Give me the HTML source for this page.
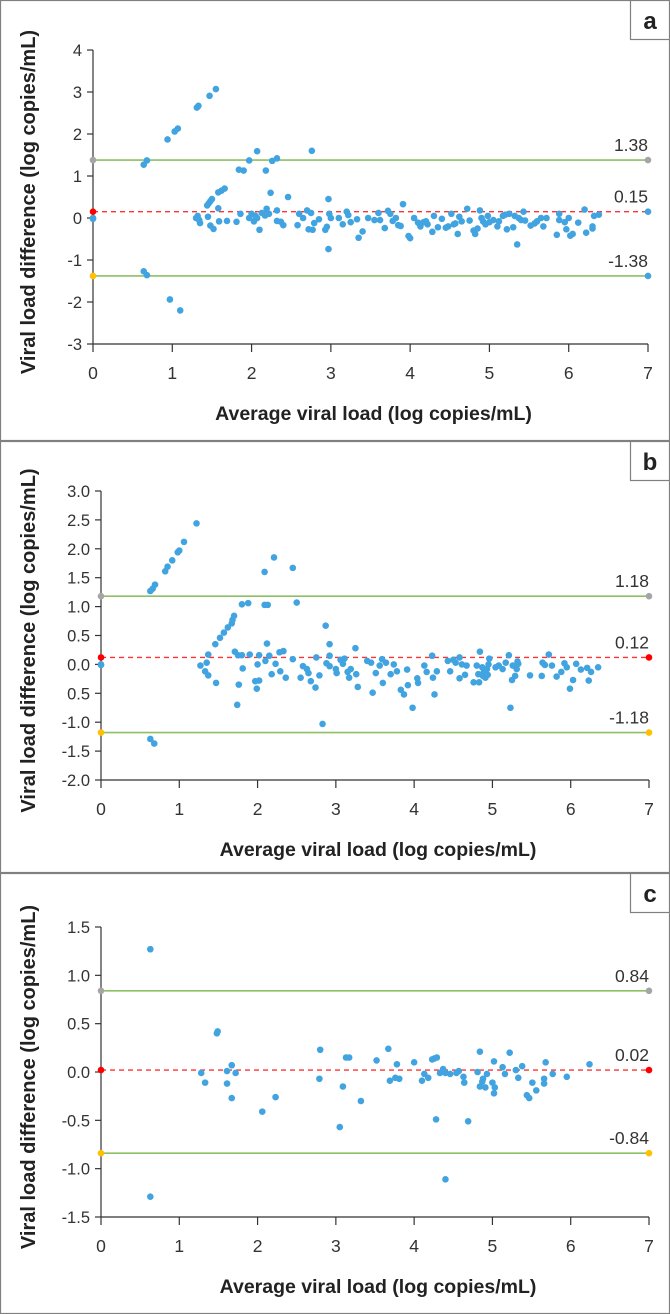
<!DOCTYPE html>
<html><head><meta charset="utf-8"><style>
body{margin:0;background:#fff}
svg{display:block;font-family:"Liberation Sans",sans-serif}
</style></head><body>
<svg id="chart" width="670" height="1314" viewBox="0 0 670 1314"></svg>
<script>
// ---------- DATA ----------
const aX = [0,0.64,0.68,0.94,1.03,1.07,1.31,1.33,1.47,1.55,0.64,0.68,0.97,1.10,1.44,1.46,1.48,1.50,1.58,1.62,1.66,1.84,1.90,1.97,2.07,2.18,2.26,2.32,2.76,2.24,2.46,2.97,3.91,
1.30,1.32,1.34,1.35,1.45,1.48,1.52,1.58,1.59,1.69,1.81,1.86,1.97,2.0,2.03,2.05,2.07,2.10,2.13,2.17,2.19,2.22,2.32,2.32,2.37,2.40,2.58,2.60,2.65,2.70,2.72,2.75,2.77,2.79,2.85,2.93,2.95,2.97,2.98,3.0,3.10,3.15,3.20,3.22,3.25,3.33,3.35,3.40,3.47,3.55,3.60,3.62,3.68,3.72,3.75,3.78,3.82,3.85,3.88,3.98,4.00,4.05,4.10,4.12,4.13,4.17,4.20,4.22,4.28,4.30,4.35,4.40,4.45,4.48,4.52,4.55,4.57,4.60,4.62,4.65,4.72,4.75,4.80,4.82,4.85,4.88,4.90,4.92,4.95,4.98,5.0,5.05,5.10,5.12,5.17,5.20,5.22,5.25,5.30,5.32,5.35,5.37,5.40,5.43,5.45,5.52,5.57,5.60,5.65,5.68,5.72,5.85,5.88,5.88,5.95,5.97,6.00,6.02,6.05,6.12,6.20,6.22,6.30,6.30,6.32,6.38];
const aY = [-0.02,1.27,1.37,1.87,2.06,2.13,2.63,2.67,2.91,3.07,-1.27,-1.36,-1.94,-2.2,0.30,0.35,0.40,0.45,0.61,0.65,0.70,1.15,1.13,1.37,1.59,1.13,1.36,1.42,1.60,0.6,0.5,0.45,0.33,
0.00,0.05,-0.05,-0.12,0.03,-0.18,-0.26,0.23,-0.08,-0.07,-0.09,0.10,0.0,0.1,-0.08,0.05,0.0,-0.28,0.12,0.06,0.22,0.1,0.18,-0.07,-0.09,-0.17,-0.17,0.10,0.0,0.18,-0.27,0.12,-0.28,-0.12,-0.03,-0.28,-0.21,-0.74,0.1,0.0,0.0,-0.15,0.15,0.07,-0.1,-0.03,-0.47,-0.32,0.0,-0.05,0.12,-0.05,-0.24,0.17,0.1,-0.07,0.0,-0.17,-0.19,-0.43,-0.48,0.0,-0.11,-0.14,-0.2,-0.1,-0.08,-0.15,-0.33,0.05,-0.22,-0.02,-0.23,-0.2,0.1,-0.15,-0.13,-0.38,0.03,-0.08,0.22,-0.06,-0.3,-0.38,-0.25,0.18,0.0,-0.08,-0.15,0.05,-0.1,-0.05,-0.2,-0.08,0.05,0.08,-0.27,0.1,-0.22,0.05,-0.63,0.0,-0.05,0.15,-0.06,-0.18,-0.13,-0.08,0.0,-0.2,0.0,-0.4,0.1,-0.05,-0.1,-0.27,0.0,-0.42,-0.38,-0.11,0.2,-0.35,-0.20,-0.25,0.05,0.08];
const aLimits = [1.38, 0.15, -1.38];
const aTicks = ["-3","-2","-1","0","1","2","3","4"];

const bX = [0,0.63,0.66,0.69,0.82,0.85,0.91,0.98,1.0,1.06,1.22,0.63,0.68,2.09,2.21,2.45,2.50,2.09,2.13,1.80,1.88,1.37,1.46,1.52,1.57,1.62,1.67,1.68,1.70,1.27,1.33,1.37,1.47,1.35,2.87,2.92,3.25,1.74,2.83,3.98,5.23,
1.71,1.75,1.80,1.90,2.02,2.12,2.15,2.28,2.33,2.45,1.81,1.76,1.97,1.99,2.00,2.02,2.10,2.18,2.23,2.29,2.36,2.55,2.58,2.63,2.65,2.68,2.74,2.75,2.79,2.88,2.92,2.92,3.00,3.01,3.06,3.09,3.11,3.15,3.17,3.19,3.26,3.28,3.40,3.45,3.47,3.51,3.56,3.59,3.60,3.64,3.70,3.74,3.78,3.83,3.87,3.91,3.92,4.04,4.05,4.13,4.16,4.23,4.24,4.26,4.29,4.43,4.46,4.50,4.53,4.58,4.58,4.61,4.65,4.67,4.76,4.80,4.82,4.83,4.84,4.87,4.88,4.89,4.91,4.93,4.94,4.95,4.96,5.04,5.08,5.13,5.17,5.21,5.25,5.26,5.29,5.31,5.32,5.33,5.48,5.63,5.64,5.67,5.72,5.76,5.82,5.88,5.92,5.95,5.99,6.03,6.07,6.13,6.21,6.23,6.26,6.35];
const bY = [-0.01,1.27,1.31,1.38,1.61,1.69,1.80,1.94,1.97,2.12,2.44,-1.29,-1.37,1.60,1.85,1.67,1.07,1.03,1.03,1.04,1.06,0.17,0.35,0.46,0.55,0.64,0.71,0.77,0.84,-0.02,-0.12,-0.19,-0.32,0.03,0.67,0.35,0.28,-0.70,-1.03,-0.75,-0.75,
0.22,0.16,0.16,0.17,0.16,0.36,0.15,0.21,0.23,0.09,-0.07,-0.35,-0.29,-0.42,0.0,-0.28,0.06,-0.17,0.01,-0.12,-0.23,-0.23,-0.03,-0.08,-0.15,-0.29,-0.40,0.12,-0.19,0.02,-0.03,0.15,-0.08,-0.15,0.08,0.01,0.10,-0.13,-0.23,-0.08,-0.17,-0.39,0.06,0.03,-0.49,-0.15,-0.02,0.09,-0.32,0.03,-0.17,0.0,-0.12,-0.44,-0.52,-0.09,-0.36,-0.24,-0.32,-0.02,-0.13,0.15,-0.23,-0.52,-0.12,0.06,-0.12,0.08,0.03,-0.24,0.12,0.0,-0.18,-0.02,-0.31,-0.02,-0.17,-0.31,0.22,-0.05,-0.20,-0.13,-0.23,-0.08,-0.18,0.0,0.10,-0.05,-0.02,-0.08,0.03,0.16,-0.27,-0.02,-0.20,-0.08,0.05,0.01,-0.19,-0.20,0.03,-0.01,0.17,-0.02,-0.21,-0.13,0.02,-0.05,-0.42,-0.27,0.01,-0.09,-0.06,-0.28,-0.13,-0.05];
const bLimits = [1.18, 0.12, -1.18];
const bTicks = ["-2.0","-1.5","-1.0","0.5","0.0","0.5","1.0","1.5","2.0","2.5","3.0"];

const cX = [0.63,0.63,1.49,1.48,1.28,1.33,1.61,1.61,1.67,1.67,1.72,2.06,2.23,2.80,2.79,3.05,3.09,3.13,3.17,3.32,3.52,3.67,3.69,3.76,3.78,3.81,4.00,4.10,4.13,4.18,4.23,4.26,4.29,4.28,4.33,4.37,4.40,4.40,4.46,4.54,4.57,4.63,4.64,4.69,4.81,4.84,4.84,4.87,4.88,4.91,4.93,5.02,5.00,5.03,5.02,5.13,5.16,5.22,5.30,5.33,5.38,5.44,5.47,5.51,5.56,5.66,5.66,5.68,5.77,5.95,6.24];
const cY = [1.27,-1.29,0.42,0.40,-0.01,-0.11,0.01,-0.12,0.07,-0.27,-0.01,-0.41,-0.26,0.23,-0.07,-0.57,-0.15,0.15,0.15,-0.30,0.12,0.24,-0.09,-0.06,0.08,-0.07,0.10,-0.09,-0.02,-0.06,0.13,0.14,0.15,-0.49,-0.01,0.03,-0.01,-1.11,-0.02,-0.01,0.01,-0.05,-0.11,-0.51,0.0,0.21,-0.15,-0.10,-0.07,-0.16,-0.02,0.11,-0.11,-0.16,-0.22,0.05,-0.02,0.20,0.02,-0.06,0.06,-0.24,-0.27,-0.11,-0.19,-0.07,-0.12,0.10,-0.02,-0.05,0.08];
const cLimits = [0.84, 0.02, -0.84];
const cTicks = ["-1.5","-1.0","-0.5","0.0","0.5","1.0","1.5"];
const xTicks = ["0","1","2","3","4","5","6","7"];

// ---------- DRAW ----------
const NS = "http://www.w3.org/2000/svg";
const svg = document.getElementById("chart");
function mk(tag, attrs, parent, text){
  const e = document.createElementNS(NS, tag);
  for (const k in attrs) e.setAttribute(k, attrs[k]);
  if (text !== undefined) e.textContent = text;
  (parent || svg).appendChild(e);
  return e;
}
const panels = [
  {id:"a", top:0, bot:440, x0:93, x1:648, yTop:50, yBot:344, yMin:-3, yMax:4, step:1, xs:aX, ys:aY, lim:aLimits, ticks:aTicks,
   leftCols:["#a5a5a5","#ff0000","#ffc000"], rightCols:["#a5a5a5","#41a4e0","#41a4e0"], extraZero:true},
  {id:"b", top:441, bot:872, x0:101, x1:649, yTop:491, yBot:780, yMin:-2, yMax:3, step:0.5, xs:bX, ys:bY, lim:bLimits, ticks:bTicks,
   leftCols:["#a5a5a5","#ff0000","#ffc000"], rightCols:["#a5a5a5","#ff0000","#ffc000"], extraZero:true},
  {id:"c", top:873, bot:1313, x0:101, x1:649, yTop:927, yBot:1217, yMin:-1.5, yMax:1.5, step:0.5, xs:cX, ys:cY, lim:cLimits, ticks:cTicks,
   leftCols:["#a5a5a5","#ff0000","#ffc000"], rightCols:["#a5a5a5","#ff0000","#ffc000"], extraZero:false}
];
panels.forEach(p => {
  const g = mk("g", {});
  
  
  const frame = mk("rect", {x:0.5, y:p.top+0.5, width:669, height:p.bot-p.top, fill:"none", stroke:"#808080", "stroke-width":1.2}, g);
  
  
  const lb = mk("g", {}, g);
  
  
  mk("rect", {x:630.5, y:p.top+0.5, width:39, height:39, fill:"#fff", stroke:"#808080", "stroke-width":1.2}, lb);
  mk("text", {x:650, y:p.top+29, "text-anchor":"middle", "font-size":24, "font-weight":"bold", fill:"#222"}, lb, p.id);

  const X = v => p.x0 + (v/7)*(p.x1-p.x0);
  const Y = v => p.yBot - (v-p.yMin)/(p.yMax-p.yMin)*(p.yBot-p.yTop);

  const ya = mk("g", {}, g);
  
  
  mk("line", {x1:p.x0, y1:p.yTop, x2:p.x0, y2:p.yBot, stroke:"#333", "stroke-width":1.2}, ya);
  p.ticks.forEach((t, i) => {
    const v = p.yMin + i*p.step;
    mk("line", {x1:p.x0-6, y1:Y(v), x2:p.x0, y2:Y(v), stroke:"#333", "stroke-width":1.2}, ya);
    const tl = mk("text", {x:p.x0-11, y:Y(v)+6, "text-anchor":"end", "font-size":16.5, fill:"#333"}, ya, t);
    
    
  });
  const xa = mk("g", {}, g);
  
  
  mk("line", {x1:p.x0, y1:p.yBot, x2:p.x1, y2:p.yBot, stroke:"#333", "stroke-width":1.2}, xa);
  xTicks.forEach((t, i) => {
    mk("line", {x1:X(i), y1:p.yBot, x2:X(i), y2:p.yBot+8, stroke:"#333", "stroke-width":1.2}, xa);
    const tl = mk("text", {x:X(i), y:p.yBot+35, "text-anchor":"middle", "font-size":17.5, fill:"#333"}, xa, t);
    
    
  });
  const xt = mk("text", {x:(p.x0+p.x1)/2 + 3, y:p.yBot+76, "text-anchor":"middle", "font-size":19.5, "font-weight":"bold", fill:"#222"}, g, "Average viral load (log copies/mL)");
  
  
  const cy = (p.yTop + p.yBot)/2 + 5;
  const yt = mk("text", {x:0, y:0, transform:`translate(35,${cy}) rotate(-90)`, "text-anchor":"middle", "font-size":20, "font-weight":"bold", fill:"#222"}, g, "Viral load difference (log copies/mL)");
  
  

  const names = ["upper-limit-line","mean-difference-line","lower-limit-line"];
  p.lim.forEach((v, i) => {
    const ln = mk("line", {x1:p.x0, y1:Y(v), x2:p.x1, y2:Y(v), stroke: i===1 ? "#ff3333" : "#8cc063", "stroke-width": i===1 ? 1.4 : 1.6, "stroke-dasharray": i===1 ? "5,4" : "none"}, g);
    
    
    const lab = mk("text", {x:p.x1, y:Y(v)-9, "text-anchor":"end", "font-size":17.5, fill:"#333"}, g, v.toFixed(2));
    
    
  });
  const pts = mk("g", {fill:"#41a4e0"}, g);
  
  
  if (p.extraZero) mk("circle", {cx:X(0), cy:Y(0), r:3.3}, pts);
  p.xs.forEach((x, i) => {
    const c = mk("circle", {cx:X(x), cy:Y(p.ys[i]), r:3.3}, pts);
    
    
  });
  p.lim.forEach((v, i) => {
    const m1 = mk("circle", {cx:p.x0, cy:Y(v), r:3.3, fill:p.leftCols[i]}, g);
    
    
    const m2 = mk("circle", {cx:p.x1, cy:Y(v), r:3.3, fill:p.rightCols[i]}, g);
    
    
  });
});
</script>
</body></html>
